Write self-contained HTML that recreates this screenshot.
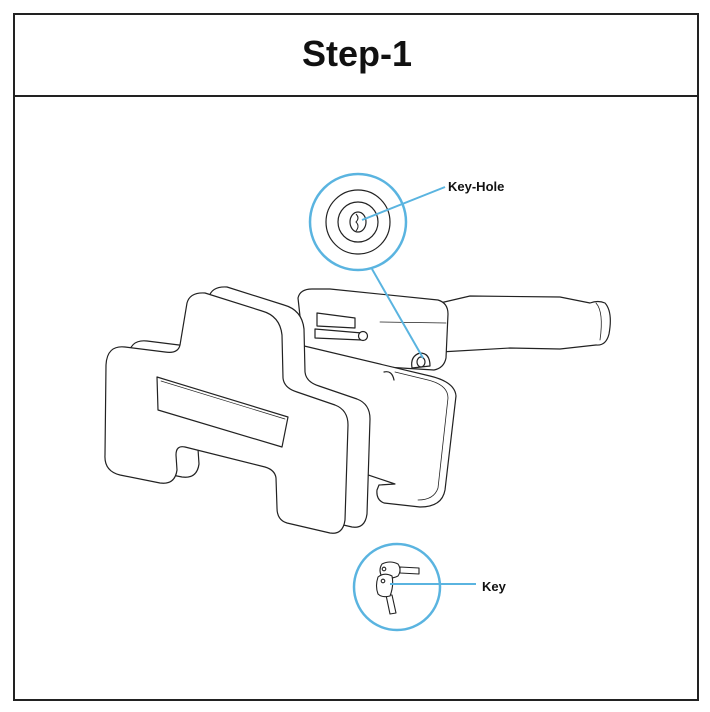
<!DOCTYPE html>
<html><head><meta charset="utf-8"><style>
html,body{margin:0;padding:0;background:#fff;}
body{width:710px;height:712px;position:relative;overflow:hidden;font-family:"Liberation Sans",sans-serif;}
</style></head><body>
<svg width="710" height="712" viewBox="0 0 710 712" xmlns="http://www.w3.org/2000/svg" style="position:absolute;left:0;top:0">
<rect x="14" y="14" width="684" height="686" fill="#fff" stroke="#222" stroke-width="2"/>
<line x1="14" y1="96" x2="698" y2="96" stroke="#222" stroke-width="2"/>
<text x="357" y="66" text-anchor="middle" font-family="Liberation Sans, sans-serif" font-weight="bold" font-size="36" fill="#111">Step-1</text>

<g fill="#fff" stroke="#222" stroke-width="1.2" stroke-linejoin="round" stroke-linecap="round">
<!-- handle -->
<path d="M440,303 L470,296 L560,297 L590,303 Q598,300 605,303 Q613,312 609,334 Q606,346 596,345 L560,349 L510,348 L440,352 Z"/>
<path d="M596,303 Q604,312 600,340" fill="none" stroke-width="0.8"/>
<!-- housing -->
<path d="M298,298 Q300,289 312,289 L330,289 L438,300 Q448,303 448,314 L446,358 Q444,368 434,370 L305,362 Z"/>
<line x1="380" y1="322" x2="446" y2="323" stroke-width="0.8"/>
<!-- rear lower plate -->
<path d="M300,345 L430,376 Q455,382 456,396 L445,490 Q442,507 420,507 L384,503 Q376,500 377,490 L379,485 L395,484 L300,452 Z"/>
<path d="M395,372 L428,380 Q448,385 448,398 L438,488 Q434,500 418,500" fill="none" stroke-width="0.8"/>
<!-- rods -->
<path d="M317,313 L355,318 L355,328 L317,326 Z"/>
<path d="M315,329 L362,333 L362,340 L315,338 Z"/>
<circle cx="363" cy="336" r="4.5"/>
<!-- device keyhole -->
<path d="M412,368 Q410,356 420,353 Q430,353 430,366 Z"/>
<ellipse cx="421" cy="362" rx="4" ry="5"/>
<path d="M384,372 Q392,370 394,380" fill="none"/>
<!-- front plate back face -->
<path transform="translate(22,-6)" d="M187,303 Q190,292 205,293 L262,311 Q280,316 282,335 L283,378 Q284,388 297,392 L335,405 Q348,410 348,425 L345,520 Q343,535 330,533 L287,523 Q277,520 277,508 L276,478 Q275,470 265,467 L185,447 Q176,445 176,455 L177,470 Q175,485 160,483 L120,475 Q104,471 105,455 L106,365 Q107,345 125,347 L165,352 Q178,354 180,345 Z"/>
<!-- front face -->
<path d="M187,303 Q190,292 205,293 L262,311 Q280,316 282,335 L283,378 Q284,388 297,392 L335,405 Q348,410 348,425 L345,520 Q343,535 330,533 L287,523 Q277,520 277,508 L276,478 Q275,470 265,467 L185,447 Q176,445 176,455 L177,470 Q175,485 160,483 L120,475 Q104,471 105,455 L106,365 Q107,345 125,347 L165,352 Q178,354 180,345 Z"/>
<!-- slot -->
<path d="M157,377 L288,417 L282,447 L158,410 Z"/>
<path d="M161,381 L285,419" fill="none" stroke-width="0.7"/>
</g>

<!-- key-hole callout -->
<g fill="none" stroke="#222" stroke-width="1.2">
<circle cx="358" cy="222" r="32"/>
<circle cx="358" cy="222" r="20"/>
<ellipse cx="358" cy="222" rx="8" ry="10"/>
<path d="M356,214 Q360,218 356,222 Q360,226 356,231" stroke-width="1"/>
</g>
<circle cx="358" cy="222" r="48" fill="none" stroke="#5ab4e0" stroke-width="2.5"/>
<line x1="362" y1="220" x2="445" y2="187" stroke="#5ab4e0" stroke-width="2"/>
<line x1="372" y1="269" x2="423" y2="358" stroke="#5ab4e0" stroke-width="2"/>
<text x="448" y="191" font-family="Liberation Sans, sans-serif" font-weight="bold" font-size="13" fill="#111">Key-Hole</text>

<!-- key callout -->
<circle cx="397" cy="587" r="43" fill="#fff" stroke="#5ab4e0" stroke-width="2.5"/>
<g fill="#fff" stroke="#222" stroke-width="1.1" stroke-linejoin="round">
<path d="M400,567 L419,568 L419,574 L400,573 Z"/>
<path d="M382,564 Q390,560 398,564 Q402,570 398,576 Q390,580 382,577 Q378,570 382,564 Z"/>
<circle cx="384" cy="569" r="1.8"/>
<path d="M386,595 L392,595 L396,613 L390,614 Z"/>
<path d="M378,577 Q384,572 392,576 Q394,586 390,596 Q382,598 378,594 Q375,586 378,577 Z"/>
<circle cx="383" cy="581" r="1.8"/>
</g>
<line x1="390" y1="584" x2="476" y2="584" stroke="#5ab4e0" stroke-width="2"/>
<text x="482" y="591" font-family="Liberation Sans, sans-serif" font-weight="bold" font-size="13" fill="#111">Key</text>
</svg>
</body></html>
